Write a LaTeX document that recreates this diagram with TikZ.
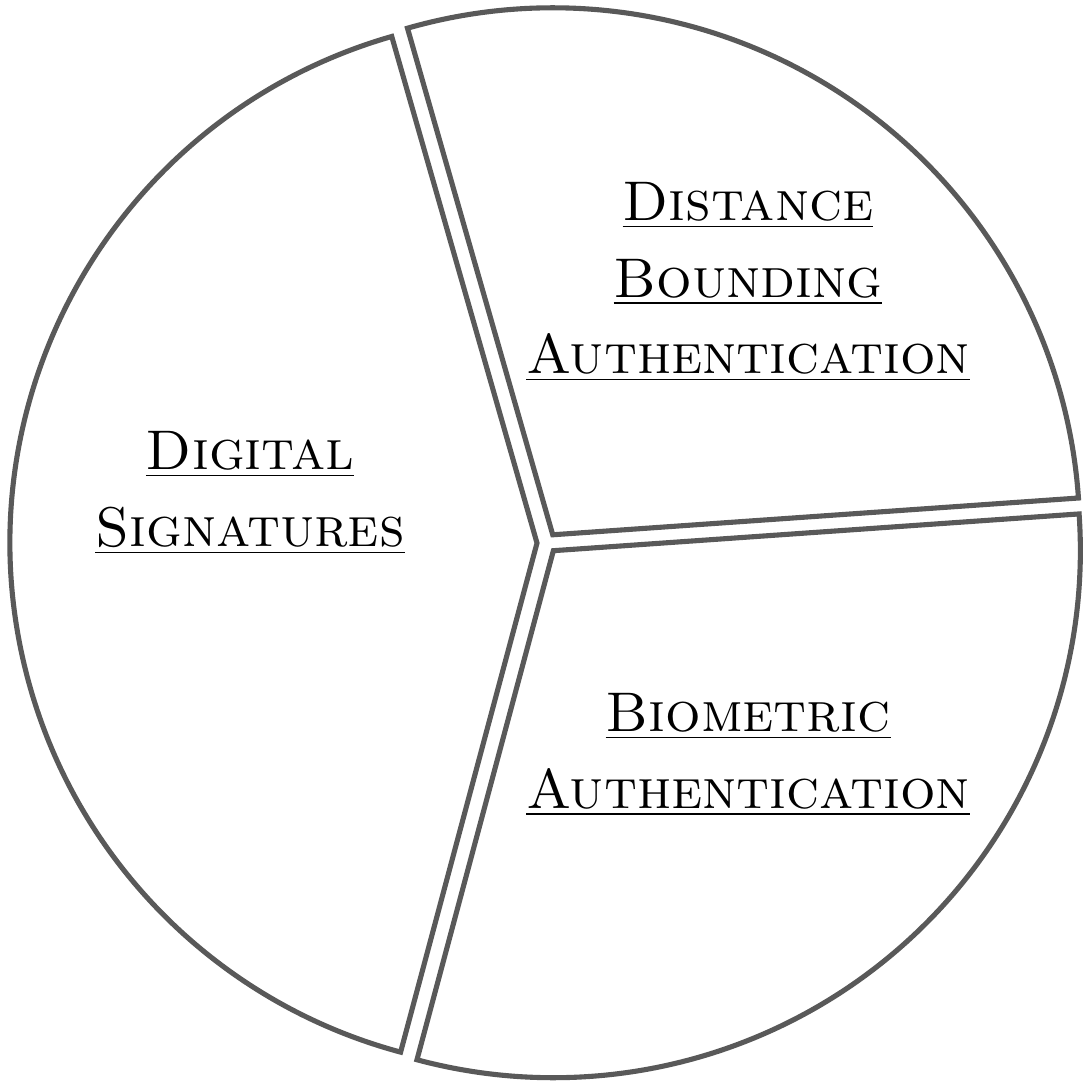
\documentclass[tikz,border=0pt]{standalone}
\usepackage{tikz}

\begin{document}
\begin{tikzpicture}[
	slice/.style={draw=black!65, line width=1.45pt, fill=white},
	sector/.style={align=center, font=\fontsize{15.9}{21.8}\selectfont}
]
	\useasboundingbox (0, 0) rectangle (10.86, 10.81);

	\begin{scope}[shift={(5.47, 5.38)}]
		\draw[slice] (180.5:0.1) -- ++(106:5.27) arc[start angle=106, end angle=255, radius=5.27] -- cycle;
		\draw[slice] (55:0.1) -- ++(4:5.27) arc[start angle=4, end angle=106, radius=5.27] -- cycle;
		\draw[slice] (-50.5:0.1) -- ++(-105:5.27) arc[start angle=-105, end angle=4, radius=5.27] -- cycle;
	\end{scope}

	\node[sector] (digsig) at (2.5, 5.88) {\underline{\textsc{Digital}}\\ \underline{\textsc{Signatures}}};
	\node[sector] (distbound) at (7.48, 7.99) {\underline{\textsc{Distance}}\\ \underline{\textsc{Bounding}}\\ \underline{\textsc{Authentication}}};
	\node[sector] (biometric) at (7.48, 3.26) {\underline{\textsc{Biometric}}\\ \underline{\textsc{Authentication}}};

\end{tikzpicture}
\end{document}
